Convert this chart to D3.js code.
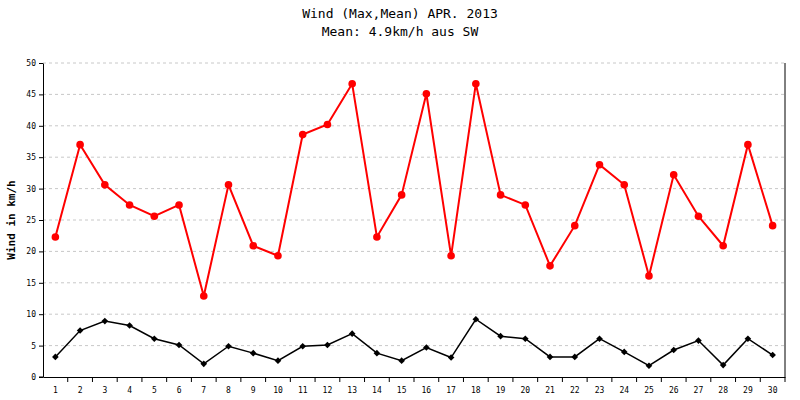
<!DOCTYPE html><html><head><script src="https://cdn.jsdelivr.net/npm/d3@7"></script>
<style>body{margin:0;background:#fff}</style></head><body><svg id="c" width="800" height="400"></svg><script>
const days = d3.range(1,31).map(String);
const maxWind = [22.3,37,30.6,27.4,25.6,27.4,12.9,30.6,20.9,19.3,38.6,40.2,46.7,22.3,29,45.1,19.3,46.7,29,27.4,17.7,24.1,33.8,30.6,16.1,32.2,25.6,20.9,37,24.1];
const meanWind = [3.2,7.4,8.9,8.2,6.1,5.1,2.1,4.9,3.8,2.6,4.9,5.1,6.9,3.8,2.6,4.7,3.1,9.2,6.5,6.1,3.2,3.2,6.1,4,1.8,4.3,5.8,1.9,6.1,3.5];
const yTicks = [0,5,10,15,20,25,30,35,40,45,50];
const svg=d3.select("#c"), L=43,R=785,T=63,B=377;
const x=d3.scaleBand().domain(days).range([L,R]);
const y=d3.scaleLinear().domain([0,50]).range([B,T]);
const mono="'DejaVu Sans Mono',monospace";
svg.append("g").selectAll("line").data(yTicks.slice(1)).join("line")
 .attr("x1",L).attr("x2",R).attr("y1",d=>y(d)).attr("y2",d=>y(d))
 .attr("stroke","#c8c8c8").attr("stroke-dasharray","3,3");
const ya=svg.append("g").attr("transform",`translate(${L},0)`).call(d3.axisLeft(y).tickValues(yTicks).tickSize(4).tickSizeOuter(0));
const xa=svg.append("g").attr("transform",`translate(0,${B})`).call(d3.axisBottom(x).tickSize(0).tickPadding(10));
xa.selectAll(".tick").append("line").attr("x1",x.bandwidth()/2).attr("x2",x.bandwidth()/2).attr("y2",5).attr("stroke","#000");
svg.append("line").attr("x1",L).attr("x2",L-4).attr("y1",B).attr("y2",B).attr("stroke","#000");
[ya,xa].forEach(a=>{a.selectAll("text").attr("font-family",mono).attr("font-size",8).attr("fill","#000");a.selectAll("path,line").attr("stroke","#000");});
svg.append("line").attr("x1",R).attr("x2",R).attr("y1",T).attr("y2",B).attr("stroke","#000");
const cx=(d,i)=>x(days[i])+x.bandwidth()/2;
const line=d3.line().x(cx).y(d=>y(d));
svg.append("path").datum(maxWind).attr("d",line).attr("fill","none").attr("stroke","red").attr("stroke-width",2);
svg.selectAll(".mx").data(maxWind).join("circle").attr("cx",cx).attr("cy",d=>y(d)).attr("r",3.8).attr("fill","red");
svg.append("path").datum(meanWind).attr("d",line).attr("fill","none").attr("stroke","#000").attr("stroke-width",1.5);
svg.selectAll(".mn").data(meanWind).join("path").attr("d",d3.symbol(d3.symbolSquare,22))
 .attr("transform",(d,i)=>`translate(${cx(d,i)},${y(d)}) rotate(45)`).attr("fill","#000");
svg.append("text").attr("x",400).attr("y",18).attr("text-anchor","middle").attr("font-family",mono).attr("font-size",13).text("Wind (Max,Mean) APR. 2013");
svg.append("text").attr("x",400).attr("y",36).attr("text-anchor","middle").attr("font-family",mono).attr("font-size",13).text("Mean: 4.9km/h aus SW");
svg.append("text").attr("transform",`translate(15,${(T+B)/2}) rotate(-90)`).attr("text-anchor","middle").attr("font-family",mono).attr("font-weight","bold").attr("font-size",11).text("Wind in km/h");
</script></body></html>
